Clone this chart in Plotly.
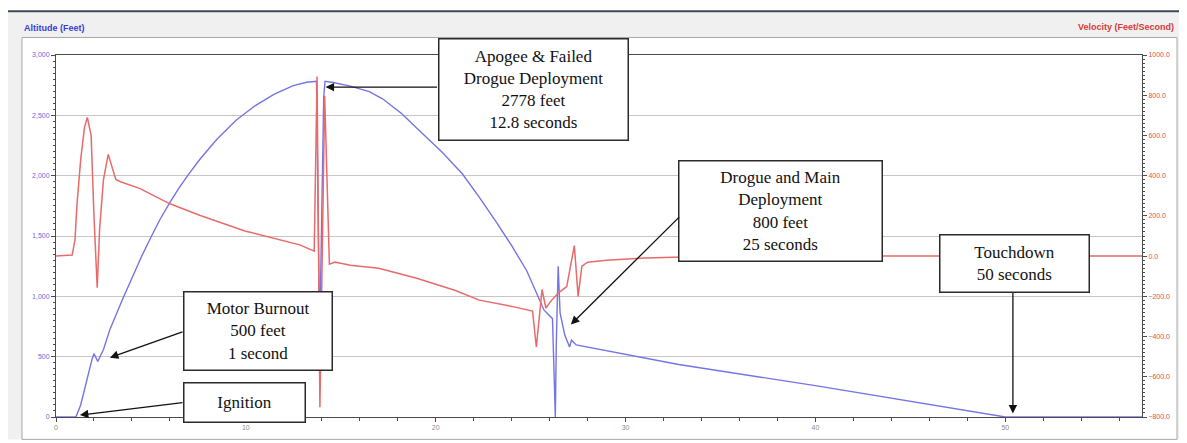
import plotly.graph_objects as go

# ---------------- data ----------------
time_alt = [0, 1.05, 1.3, 1.6, 1.9, 2.0, 2.2, 2.5, 2.84, 3.5, 4.0, 4.5, 5.0, 5.5, 6.0, 6.5,
            7.0, 7.6, 8.5, 9.5, 10.5, 11.5, 12.5, 13.2, 13.72, 13.8, 13.86, 13.93, 14.0,
            14.1, 14.17, 14.6, 15.5, 16.5, 17.2, 18.2, 19.16, 20.3, 21.4, 22.3, 23.2, 24.0,
            24.8, 25.7, 26.15, 26.3, 26.35, 26.45, 26.55, 26.8, 27.05, 27.15, 27.4, 30.0,
            32.8, 40.0, 45.0, 50.0, 57.2]
altitude = [0, 0, 100, 300, 480, 525, 460, 560, 726, 973, 1155, 1328, 1490, 1643, 1778, 1903,
            2015, 2140, 2306, 2461, 2581, 2676, 2746, 2774, 2782, 1800, 1000, 1050, 1900,
            2650, 2782, 2772, 2742, 2696, 2637, 2515, 2371, 2200, 2016, 1820, 1613, 1420,
            1210, 887, 815, 0, 600, 1250, 863, 677, 580, 637, 597, 520,
            435, 260, 130, 0, 0]

time_vel = [0, 0.85, 1.0, 1.1, 1.3, 1.5, 1.65, 1.85, 2.0, 2.17, 2.3, 2.5, 2.75, 3.0, 3.15, 3.4,
            4.4, 6.0, 7.6, 9.95, 12.84, 13.6, 13.75, 13.9, 14.15, 14.4, 14.7, 15.0, 15.5,
            17.0, 19.0, 21.0, 22.3, 24.0, 25.1, 25.3, 25.6, 25.8, 26.1, 26.5, 26.9, 27.3,
            27.5, 27.7, 28.0, 29.0, 31.0, 33.0, 40.0, 50.0, 57.2]
velocity = [0, 5, 80, 250, 480, 640, 690, 600, 200, -157, 139, 380, 506, 420, 381, 370,
            337, 260, 202, 125, 56, 25, 893, -752, 797, -40, -30, -35, -45,
            -60, -110, -170, -219, -250, -273, -452, -166, -258, -220, -180, -152, 52,
            -200, -50, -30, -20, -10, -5, 0, 0, 0]

alt_ticks = [0, 500, 1000, 1500, 2000, 2500, 3000]
vel_ticks = [-800, -600, -400, -200, 0, 200, 400, 600, 800, 1000]
time_ticks = [0, 10, 20, 30, 40, 50]

# callouts: (text, box centre t, box centre alt, width, height)
callouts = [
    ("Apogee &amp; Failed<br>Drogue Deployment<br>2778 feet<br>12.8 seconds", 25.16, 2718, 188, 100),
    ("Drogue and Main<br>Deployment<br>800 feet<br>25 seconds", 38.18, 1706, 202, 99),
    ("Touchdown<br>50 seconds", 50.5, 1274, 148, 56),
    ("Motor Burnout<br>500 feet<br>1 second", 10.66, 714, 147, 77),
    ("Ignition", 9.95, 121, 120, 38),
]
# arrows: (tip t, tip alt, tail t, tail alt)
arrows = [
    (14.2, 2734, 20.15, 2734),
    (27.12, 766, 32.9, 1669),
    (50.4, 30, 50.4, 1040),
    (2.84, 492, 6.74, 710),
    (1.26, 16, 6.74, 121),
]

BLUE = "#7474e4"
RED = "#e86a6a"

# ---------------- figure ----------------
fig = go.Figure()
fig.add_trace(go.Scatter(x=time_alt, y=altitude, mode="lines", name="Altitude",
                         line=dict(color=BLUE, width=1.4), yaxis="y"))
fig.add_trace(go.Scatter(x=time_vel, y=velocity, mode="lines", name="Velocity",
                         line=dict(color=RED, width=1.5), yaxis="y2"))

# the page places the figure 8px from the top-left corner of the window
OFF = 8
PAGE_W, PAGE_H = 1187, 443
W, H = PAGE_W - OFF, PAGE_H - OFF
PL, PR, PT, PB = 56, 1142, 55, 427          # plot area in window pixels
L, T = PL - OFF, PT - OFF
R, B = PAGE_W - PR, PAGE_H - PB
pw, ph = PR - PL, PB - PT


def px(x):
    return (x - PL) / pw


def py(y):
    return (PB - y) / ph


shapes = [
    dict(type="rect", xref="paper", yref="paper", x0=px(6), x1=px(1181), y0=py(450), y1=py(11),
         fillcolor="#f0f0f0", line=dict(width=0), layer="below"),
    dict(type="rect", xref="paper", yref="paper", x0=px(22), x1=px(1177), y0=py(450), y1=py(37),
         fillcolor="white", line=dict(color="#a8a8a8", width=1), layer="below"),
    dict(type="line", xref="paper", yref="paper", x0=px(6), x1=px(1181), y0=py(10), y1=py(10),
         line=dict(color="#3d4a58", width=2), layer="below"),
]

annotations = [
    dict(text="<b>Altitude (Feet)</b>", xref="paper", yref="paper", x=px(22), y=py(27),
         xanchor="left", yanchor="middle", showarrow=False,
         font=dict(family="Liberation Sans", size=9, color="#3c3cd8")),
    dict(text="<b>Velocity (Feet/Second)</b>", xref="paper", yref="paper", x=px(1176), y=py(26),
         xanchor="right", yanchor="middle", showarrow=False,
         font=dict(family="Liberation Sans", size=9, color="#d83a3a")),
]
for (tx, t, a, w, h) in callouts:
    annotations.append(dict(text=tx, x=t, y=a, xref="x", yref="y", showarrow=False,
                            xanchor="center", yanchor="middle", width=w, height=h,
                            bgcolor="white", bordercolor="#2a2a2a", borderwidth=1.5,
                            borderpad=0, valign="middle",
                            font=dict(family="Liberation Serif", size=17, color="#111")))
for (xt, yt, xa, ya) in arrows:
    annotations.append(dict(text="", x=xt, y=yt, xref="x", yref="y", ax=xa, ay=ya,
                            axref="x", ayref="y", showarrow=True, arrowhead=2,
                            arrowsize=1.3, arrowwidth=1.3, arrowcolor="#111", standoff=0))

fig.update_layout(
    width=W, height=H, autosize=False,
    margin=dict(l=L, r=R, t=T, b=B, pad=0),
    paper_bgcolor="white", plot_bgcolor="#dcdcdc",
    showlegend=False,
    shapes=shapes, annotations=annotations,
    xaxis=dict(range=[0, 57.2], tickvals=time_ticks, showgrid=False, zeroline=False,
               showline=True, linecolor="#4a4a4a", linewidth=1, mirror=True,
               ticks="outside", ticklen=4, tickcolor="#4a4a4a",
               minor=dict(dtick=2, ticks="outside", ticklen=3, tickcolor="#4a4a4a"),
               tickfont=dict(family="Liberation Sans", size=7, color="#8a8a8a")),
    yaxis=dict(range=[0, 3000], tickvals=alt_ticks, tickformat=",", showgrid=True,
               gridcolor="#c6c6c6", gridwidth=1, zeroline=False,
               showline=True, linecolor="#4a4a4a", linewidth=1,
               ticks="outside", ticklen=4, tickcolor="#4a4a4a",
               minor=dict(dtick=50, ticks="outside", ticklen=2, tickcolor="#4a4a4a", showgrid=False),
               tickfont=dict(family="Liberation Sans", size=7, color="#6a6ae0")),
    yaxis2=dict(range=[-800, 1000], tickvals=vel_ticks, tickformat=".1f", overlaying="y",
                side="right", showgrid=False, zeroline=False,
                showline=True, linecolor="#4a4a4a", linewidth=1,
                ticks="outside", ticklen=4, tickcolor="#4a4a4a",
                minor=dict(dtick=20, ticks="outside", ticklen=2, tickcolor="#4a4a4a", showgrid=False),
                tickfont=dict(family="Liberation Sans", size=7, color="#e05050")),
)

fig.write_html("out.html")
